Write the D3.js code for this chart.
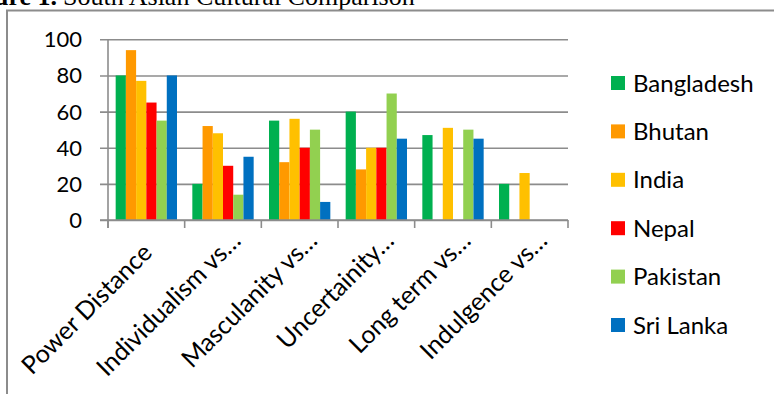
<!DOCTYPE html>
<html>
<head>
<meta charset="utf-8">
<script src="https://cdn.jsdelivr.net/npm/d3@7"></script>
<style>
  html, body { margin: 0; padding: 0; background: #fff; overflow: hidden; }
  svg { display: block; }
</style>
</head>
<body>
<svg id="chart" width="774" height="394"></svg>
<script>
const categories = ["Power Distance", "Individualism vs\u2026", "Masculanity vs\u2026", "Uncertainity\u2026", "Long term vs\u2026", "Indulgence vs\u2026"];
const seriesNames = ["Bangladesh", "Bhutan", "India", "Nepal", "Pakistan", "Sri Lanka"];
const seriesColors = ["#00B050", "#FF9900", "#FFC000", "#FF0000", "#92D050", "#0070C0"];
const bangladesh = [80, 20, 55, 60, 47, 20];
const bhutan     = [94, 52, 32, 28, null, null];
const india      = [77, 48, 56, 40, 51, 26];
const nepal      = [65, 30, 40, 40, null, null];
const pakistan   = [55, 14, 50, 70, 50, null];
const sriLanka   = [80, 35, 10, 45, 45, null];
const yTicks = [0, 20, 40, 60, 80, 100];
const titleBold = "Figure 1.";
const titleRest = "South Asian Cultural Comparison";

const seriesValues = [bangladesh, bhutan, india, nepal, pakistan, sriLanka];
const svg = d3.select("#chart");
const font = "Lato, 'Open Sans', sans-serif";

// Title (clipped at top as in reference)
svg.append("text").attr("x", 57).attr("y", 5).attr("text-anchor", "end")
  .attr("font-family", "'Liberation Serif', 'Times New Roman', serif")
  .attr("font-size", 26).attr("font-weight", "bold").attr("fill", "#000").text(titleBold);
svg.append("text").attr("x", 63).attr("y", 5)
  .attr("font-family", "'Liberation Serif', 'Times New Roman', serif")
  .attr("font-size", 26).attr("fill", "#000").text(titleRest);

// Chart frame (top and left edges visible)
svg.append("path").attr("d", "M7,400 V10.5 H780").attr("fill", "none")
  .attr("stroke", "#8c8c8c").attr("stroke-width", 2);

const x0 = d3.scaleBand().domain(categories).range([108, 568]).paddingInner(0).paddingOuter(0);
const x1 = d3.scaleBand().domain(seriesNames).range([0, x0.bandwidth()]).paddingInner(0).paddingOuter(0.75);
const y = d3.scaleLinear().domain([0, 100]).range([220, 39.3]);

// Gridlines via axis
const yAxisG = svg.append("g").attr("transform", "translate(108,0)")
  .call(d3.axisLeft(y).tickValues(yTicks).tickSize(-460).tickPadding(0).tickFormat(""));
yAxisG.select(".domain").remove();
yAxisG.selectAll(".tick line").attr("x1", -8).attr("stroke", "#8c8c8c").attr("stroke-width", 1.6);

// Y tick labels
svg.append("g").selectAll("text").data(yTicks).join("text")
  .attr("x", 82).attr("y", d => y(d)).attr("dy", "0.36em").attr("text-anchor", "end")
  .attr("font-family", font).attr("font-size", 22).attr("fill", "#000")
  .text(d => d);

// Bars
const barData = [];
categories.forEach((c, ci) => {
  seriesNames.forEach((s, si) => {
    const v = seriesValues[si][ci];
    if (v !== null && v !== undefined) barData.push({ c, s, v, color: seriesColors[si] });
  });
});
svg.append("g").selectAll("rect").data(barData).join("rect")
  .attr("x", d => x0(d.c) + x1(d.s))
  .attr("y", d => y(d.v))
  .attr("width", x1.bandwidth())
  .attr("height", d => y(0) - y(d.v))
  .attr("fill", d => d.color);

// Y axis line
svg.append("line").attr("x1", 108).attr("x2", 108).attr("y1", y(100)).attr("y2", 228)
  .attr("stroke", "#8c8c8c").attr("stroke-width", 1.6);

// X axis line and ticks at category boundaries
svg.append("line").attr("x1", 100).attr("x2", 568).attr("y1", y(0)).attr("y2", y(0))
  .attr("stroke", "#8c8c8c").attr("stroke-width", 1.6);
const boundaries = categories.map(c => x0(c)).concat([x0.range()[1]]);
svg.append("g").selectAll("line").data(boundaries).join("line")
  .attr("x1", d => d).attr("x2", d => d).attr("y1", y(0)).attr("y2", 228)
  .attr("stroke", "#8c8c8c").attr("stroke-width", 1.6);

// X labels rotated -45 (truncated labels reach a bit further along the diagonal)
svg.append("g").selectAll("text").data(categories).join("text")
  .attr("transform", d => `translate(${x0(d) + x0.bandwidth() / 2 + 13},236) rotate(-45)`)
  .attr("text-anchor", "end").attr("dy", "0.35em")
  .attr("dx", d => d.endsWith("\u2026") ? 0 : -17)
  .attr("font-family", font).attr("font-size", 25).attr("fill", "#000")
  .text(d => d);

// Legend
const legend = svg.append("g").selectAll("g").data(seriesNames).join("g")
  .attr("transform", (d, i) => `translate(611,${83 + i * 48.4})`);
legend.append("rect").attr("x", 0).attr("y", -7).attr("width", 14).attr("height", 14)
  .attr("fill", (d, i) => seriesColors[i]);
legend.append("text").attr("x", 22).attr("y", 0).attr("dy", "0.36em")
  .attr("font-family", font).attr("font-size", 24).attr("fill", "#000")
  .text(d => d);
</script>
</body>
</html>
